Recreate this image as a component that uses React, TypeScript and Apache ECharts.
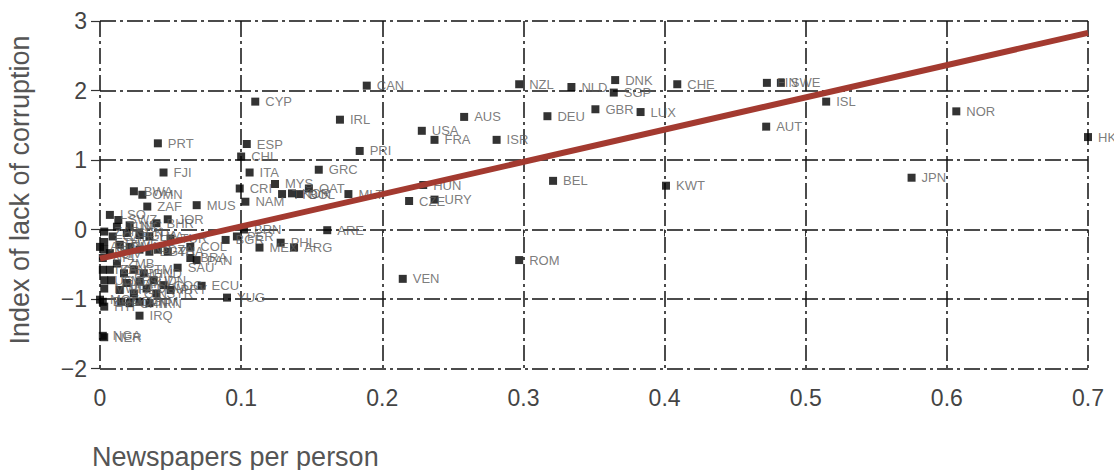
import React, { useEffect, useRef } from "react";
import * as echarts from "echarts";

const countries = [
  "CAN","NZL","NLD","DNK","SGP","CHE","FIN","SWE","ISL","NOR","HKG","AUT","LUX","GBR","DEU","AUS","USA","FRA","ISR","IRL",
  "CYP","PRT","ESP","PRI","CHL","FJI","ITA","GRC","JPN","BEL","KWT","HUN","CZE","URY","MLT","MYS","QAT","KOR","BOL","TTO",
  "CRI","NAM","MUS","BWA","OMN","ZAF","JOR","LSO","SWZ","ARE","PHL","MEX","ARG","ROM","VEN","YUG","ECU","IRQ","NGA","NER",
  "SAU","BRN","BGR","PER","ZAR","ETH","MLI","NPL","TZA","UGA","MWI","BGD","HTI","AGO","MOZ","GAB","SEN","GHA","LKA","TUN",
  "NIC","BHR","ZWE","MAR","IND","EGY","DZA","CIV","ZMB","KEN","PNG","GTM","HND","CMR","PAK","SLV","IDN","COG","BFA","DOM",
  "PRY","GIN","SYR","MDG","CHN","VNM","IRN","TUR","THA","COL","BRA","PAN"
];
const newspapers = [
  0.189,0.297,0.334,0.365,0.364,0.409,0.4725,0.4824,0.5145,0.6067,0.700,0.472,0.383,0.351,0.317,0.258,0.228,0.237,0.281,0.170,
  0.110,0.041,0.104,0.184,0.100,0.045,0.106,0.155,0.575,0.321,0.401,0.229,0.219,0.237,0.176,0.124,0.148,0.136,0.141,0.129,
  0.099,0.103,0.0685,0.024,0.030,0.0335,0.048,0.007,0.013,0.161,0.128,0.113,0.1375,0.297,0.2145,0.090,0.072,0.028,0.002,0.003,
  0.055,0.102,0.089,0.097,0.003,0.003,0.003,0.002,0.002,0.003,0.003,0.002,0.003,0.000,0.000,0.009,0.019,0.028,0.035,0.012,
  0.021,0.040,0.014,0.021,0.028,0.035,0.041,0.007,0.012,0.007,0.017,0.024,0.031,0.008,0.019,0.028,0.038,0.045,0.014,0.033,
  0.050,0.024,0.040,0.015,0.021,0.028,0.035,0.050,0.048,0.064,0.064,0.0685
];
const corruption = [
  2.07,2.09,2.05,2.15,1.97,2.09,2.11,2.11,1.84,1.70,1.33,1.48,1.69,1.73,1.63,1.62,1.42,1.29,1.29,1.58,
  1.84,1.24,1.23,1.13,1.05,0.82,0.82,0.86,0.745,0.70,0.63,0.64,0.41,0.43,0.51,0.655,0.59,0.52,0.51,0.51,
  0.59,0.40,0.35,0.55,0.50,0.33,0.147,0.21,0.137,-0.01,-0.19,-0.26,-0.26,-0.44,-0.71,-0.98,-0.81,-1.24,-1.53,-1.55,
  -0.55,0.0,-0.15,-0.10,-0.03,-0.18,-0.29,-0.41,-0.58,-0.73,-0.85,-1.04,-1.11,-0.25,-1.01,-0.10,-0.05,-0.08,-0.10,0.04,
  0.06,0.09,-0.22,-0.25,-0.29,-0.32,-0.29,-0.34,-0.49,-0.58,-0.63,-0.58,-0.63,-0.73,-0.77,-0.75,-0.73,-0.80,-0.87,-0.85,
  -0.87,-0.92,-0.92,-1.04,-1.06,-1.04,-1.06,-0.13,-0.32,-0.25,-0.41,-0.44
];
const fitX = [0, 0.7];
const fitY = [-0.42, 2.83];
const xTicks = [0, 0.1, 0.2, 0.3, 0.4, 0.5, 0.6, 0.7];
const yTicks = [-2, -1, 0, 1, 2, 3];

const FONT = "'Liberation Sans', Arial, Helvetica, sans-serif";
const DASH = [16, 4, 3, 4];

export default function App() {
  const ref = useRef<HTMLDivElement>(null);
  useEffect(() => {
    document.body.style.margin = "0";
    const chart = echarts.init(ref.current!, null, { renderer: "svg" });
    const points = countries.map((c, i) => ({ name: c, value: [newspapers[i], corruption[i]] }));
    chart.setOption({
      animation: false,
      backgroundColor: "#fff",
      textStyle: { fontFamily: FONT },
      grid: { left: 100, right: 26, top: 21, bottom: 101.5 },
      xAxis: {
        type: "value",
        min: xTicks[0],
        max: xTicks[xTicks.length - 1],
        interval: 0.1,
        axisLine: { show: false },
        axisTick: { show: true, length: 7, lineStyle: { color: "#333", width: 1 } },
        axisLabel: {
          color: "#444",
          fontSize: 23,
          margin: 18,
          fontFamily: FONT,
          formatter: (v: number) => String(Math.round(v * 10) / 10),
        },
        splitLine: { show: true, lineStyle: { color: "#111", width: 1.5, type: DASH } },
      },
      yAxis: {
        type: "value",
        min: yTicks[0],
        max: yTicks[yTicks.length - 1],
        interval: 1,
        axisLine: { show: false },
        axisTick: { show: true, length: 9, lineStyle: { color: "#333", width: 1.2 } },
        axisLabel: {
          color: "#444",
          fontSize: 23,
          margin: 13,
          fontFamily: FONT,
          formatter: (v: number) => (v < 0 ? "\u2212" + Math.abs(v) : String(v)),
        },
        splitLine: { show: true, lineStyle: { color: "#111", width: 1.5, type: DASH } },
      },
      series: [
        {
          type: "scatter",
          symbol: "rect",
          symbolSize: 8,
          itemStyle: { color: "#000" },
          z: 2,
          data: points,
          label: {
            show: true,
            position: "right",
            distance: 6,
            formatter: "{b}",
            color: "#5a5a5a",
            fontSize: 13,
            fontFamily: FONT,
          },
        },
        {
          type: "line",
          z: 10,
          symbol: "none",
          lineStyle: { color: "#A33A30", width: 6 },
          data: fitX.map((x, i) => [x, fitY[i]]),
        },
      ],
      graphic: [
        {
          type: "text",
          left: 92,
          top: 443,
          style: { text: "Newspapers per person", fill: "#555", fontSize: 27, fontFamily: FONT },
        },
        {
          type: "text",
          x: 20,
          y: 190,
          rotation: Math.PI / 2,
          style: {
            text: "Index of lack of corruption",
            fill: "#555",
            fontSize: 27,
            fontFamily: FONT,
            align: "center",
            verticalAlign: "middle",
          },
        },
      ],
    });
    return () => chart.dispose();
  }, []);
  return <div ref={ref} style={{ width: 1114, height: 470 }} />;
}
